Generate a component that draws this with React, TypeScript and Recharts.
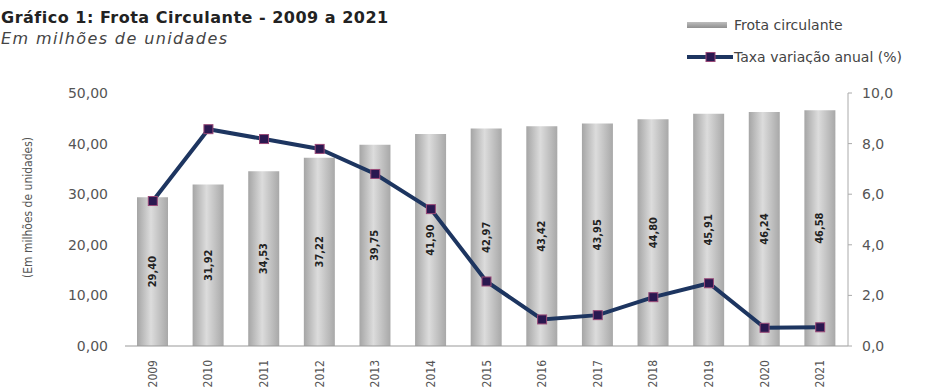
import { ComposedChart, Bar, Line, XAxis, YAxis, LabelList } from 'recharts'

const years = ['2009', '2010', '2011', '2012', '2013', '2014', '2015', '2016', '2017', '2018', '2019', '2020', '2021']
const frota = [29.4, 31.92, 34.53, 37.22, 39.75, 41.9, 42.97, 43.42, 43.95, 44.8, 45.91, 46.24, 46.58]
const taxa = [5.73, 8.57, 8.18, 7.79, 6.8, 5.41, 2.55, 1.05, 1.22, 1.93, 2.48, 0.72, 0.74]
const leftTicks = [0, 10, 20, 30, 40, 50]
const rightTicks = [0, 2, 4, 6, 8, 10]

const data = years.map((y, i) => ({ year: y, frota: frota[i], taxa: taxa[i] }))

const FONT = "'DejaVu Sans', Arial, sans-serif"
const NARROW = "'Liberation Sans Narrow', 'DejaVu Sans Condensed', Arial, sans-serif"
const LINE = '#1d3560'

const ptBR = (v: number, d: number) => v.toFixed(d).replace('.', ',')

function YearTick({ x, y, payload }: any) {
  return (
    <text x={x} y={y + 6} transform={`rotate(-90 ${x} ${y + 6})`} textAnchor="end" dominantBaseline="central"
      fontSize={12} fill="#555" fontFamily={NARROW}>
      {payload.value}
    </text>
  )
}

function BarValue({ x, y, width, height, value }: any) {
  const cx = x + width / 2
  const cy = y + height / 2
  return (
    <text x={cx} y={cy} transform={`rotate(-90 ${cx} ${cy})`} textAnchor="middle" dominantBaseline="central"
      fontSize={11} fontWeight="bold" fill="#222" fontFamily={NARROW}>
      {ptBR(value, 2)}
    </text>
  )
}

function SquareDot({ cx, cy, index }: any) {
  return <rect key={index} x={cx - 4.5} y={cy - 4.5} width={9} height={9} fill="#2a1850" stroke="#9a4a78" strokeWidth={1} />
}

function AxisTitle({ viewBox }: any) {
  const cx = 28
  const cy = viewBox ? viewBox.y + viewBox.height / 2 - 12 : 208
  return (
    <text x={cx} y={cy} transform={`rotate(-90 ${cx} ${cy})`} textAnchor="middle" dominantBaseline="central"
      fontSize={12} fill="#555" fontFamily={NARROW}>
      (Em milhões de unidades)
    </text>
  )
}

function LegendBox() {
  return (
    <svg width={260} height={50} style={{ position: 'absolute', left: 687, top: 14 }}>
      <defs>
        <linearGradient id="lg" x1="0" y1="0" x2="0" y2="1">
          <stop offset="0%" stopColor="#bdbdbd" />
          <stop offset="100%" stopColor="#8f8f8f" />
        </linearGradient>
      </defs>
      <rect x={0} y={8} width={40} height={6} fill="url(#lg)" />
      <text x={47} y={11} dominantBaseline="central" fontSize={14} fill="#444" fontFamily={FONT}>Frota circulante</text>
      <line x1={0} y1={43} x2={46} y2={43} stroke={LINE} strokeWidth={4} />
      <rect x={19} y={38.5} width={9} height={9} fill="#2a1850" stroke="#9a4a78" />
      <text x={47} y={43} dominantBaseline="central" fontSize={14} fill="#444" fontFamily={FONT}>Taxa variação anual (%)</text>
    </svg>
  )
}

export default function App() {
  return (
    <div style={{ position: 'absolute', left: 0, top: 0, width: 944, height: 390, background: '#fff', fontFamily: FONT, overflow: 'hidden' }}>
      <div style={{ position: 'absolute', left: 1, top: 8, fontSize: 16, fontWeight: 'bold', color: '#222', whiteSpace: 'nowrap', letterSpacing: 0.5 }}>
        Gráfico 1: Frota Circulante - 2009 a 2021
      </div>
      <div style={{ position: 'absolute', left: 1, top: 29, fontSize: 16, fontStyle: 'italic', color: '#444', whiteSpace: 'nowrap', letterSpacing: 1.4 }}>
        Em milhões de unidades
      </div>
      <LegendBox />
      <ComposedChart width={944} height={390} data={data} margin={{ top: 93, right: 0, bottom: 0, left: 0 }}>
        <defs>
          <linearGradient id="barGrad" x1="0" y1="0" x2="1" y2="0">
            <stop offset="0%" stopColor="#a5a5a5" />
            <stop offset="45%" stopColor="#dcdcdc" />
            <stop offset="100%" stopColor="#a8a8a8" />
          </linearGradient>
        </defs>
        <XAxis dataKey="year" stroke="#999" tickLine={false} tick={<YearTick />} interval={0} height={44} />
        <YAxis yAxisId="left" domain={[0, 50]} ticks={leftTicks} width={125} axisLine={false} tickLine={false}
          tickSize={0} tickMargin={17} tick={{ fontSize: 14, fill: '#555', fontFamily: FONT }}
          tickFormatter={(v: number) => ptBR(v, 2)}
          label={<AxisTitle />} />
        <YAxis yAxisId="right" orientation="right" domain={[0, 10]} ticks={rightTicks} width={96} stroke="#aaa"
          tickSize={4} tickMargin={10} tick={{ fontSize: 14, fill: '#555', fontFamily: FONT }}
          tickFormatter={(v: number) => ptBR(v, 1)} />
        <Bar yAxisId="left" dataKey="frota" barSize={31} fill="url(#barGrad)" isAnimationActive={false}>
          <LabelList dataKey="frota" content={<BarValue />} />
        </Bar>
        <Line yAxisId="right" dataKey="taxa" stroke={LINE} strokeWidth={4} dot={<SquareDot />} activeDot={false} isAnimationActive={false} />
      </ComposedChart>
    </div>
  )
}
